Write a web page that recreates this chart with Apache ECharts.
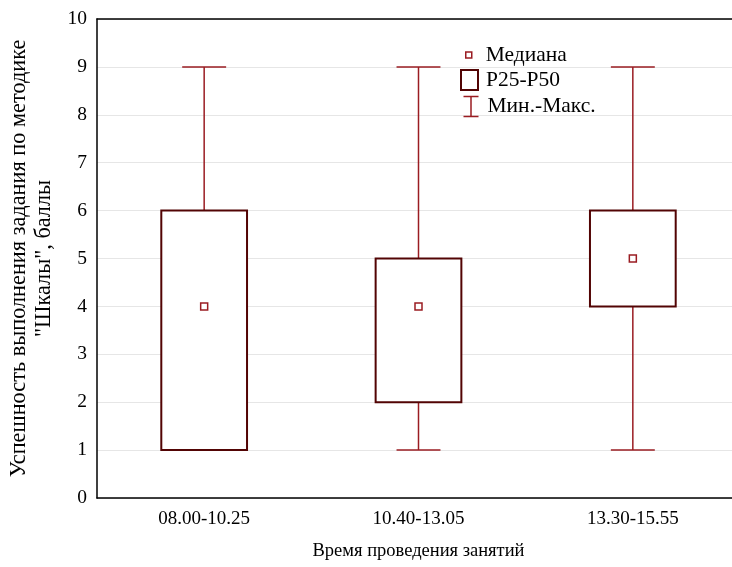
<!DOCTYPE html>
<html>
<head>
<meta charset="utf-8">
<script src="https://cdn.jsdelivr.net/npm/echarts@6/dist/echarts.min.js"></script>
<style>html,body{margin:0;padding:0;background:#fff}#c{width:732px;height:567px}</style>
</head>
<body>
<div id="c"></div>
<script>
const categories = ['08.00-10.25', '10.40-13.05', '13.30-15.55'];
const minValues = [1, 1, 1];
const q1Values = [1, 2, 4];
const medianValues = [4, 4, 5];
const q3Values = [6, 5, 6];
const maxValues = [9, 9, 9];
const yTicks = [0, 1, 2, 3, 4, 5, 6, 7, 8, 9, 10];

const FONT = 'Liberation Serif';
const BOX_C = '#520404';
const WHISK_C = '#9a1c22';

const boxData = categories.map((c, i) => [i, q1Values[i], q3Values[i]]);
const whiskData = categories.map((c, i) => [i, minValues[i], maxValues[i]]);
const medData = categories.map((c, i) => [i, medianValues[i]]);

const chart = echarts.init(document.getElementById('c'), null, {renderer: 'canvas'});
chart.setOption({
  animation: false,
  backgroundColor: '#fff',
  grid: {left: 97, right: -8, top: 19, bottom: 69, outerBoundsMode: 'none', containLabel: false},
  legend: [
    {data: [{name: 'Медиана', icon: 'rect', itemStyle: {color: '#fff', borderColor: WHISK_C, borderWidth: 1.5}}],
     left: 460, top: 39, itemWidth: 6, itemHeight: 6, selectedMode: false,
     textStyle: {fontFamily: FONT, fontSize: 21.5, color: '#000', padding: [0, 0, 0, 9]}},
    {data: [{name: 'P25-P50', icon: 'rect', itemStyle: {color: '#fff', borderColor: BOX_C, borderWidth: 2}}],
     left: 455, top: 64, itemWidth: 17, itemHeight: 20, selectedMode: false,
     textStyle: {fontFamily: FONT, fontSize: 21.5, color: '#000', padding: [0, 0, 0, 3]}},
    {data: [{name: 'Мин.-Макс.', icon: 'path://M0,0H15M7.5,0V20M0,20H15', itemStyle: {color: 'none', borderColor: WHISK_C, borderWidth: 1.5}}],
     left: 456, top: 89, itemWidth: 15, itemHeight: 20, selectedMode: false,
     textStyle: {fontFamily: FONT, fontSize: 21.5, color: '#000', padding: [0, 0, 0, 4]}}
  ],
  xAxis: [{
    type: 'category', data: categories, boundaryGap: true,
    name: 'Время проведения занятий', nameLocation: 'middle', nameGap: 44,
    nameTextStyle: {fontFamily: FONT, fontSize: 18.5, color: '#000'},
    axisLine: {lineStyle: {color: '#000', width: 1.5}},
    axisTick: {alignWithLabel: true, inside: true, length: 4, lineStyle: {color: '#000'}},
    axisLabel: {fontFamily: FONT, fontSize: 19, color: '#000', margin: 12},
    splitLine: {show: false}
  }, {
    type: 'category', data: categories, boundaryGap: true, position: 'top',
    axisLine: {lineStyle: {color: '#000', width: 1.5}},
    axisTick: {alignWithLabel: true, inside: true, length: 4, lineStyle: {color: '#000'}},
    axisLabel: {show: false}, splitLine: {show: false}
  }],
  yAxis: {
    type: 'value', min: yTicks[0], max: yTicks[yTicks.length - 1], interval: 1,
    name: 'Успешность выполнения задания по методике\n"Шкалы", баллы',
    nameLocation: 'middle', nameGap: 40, nameRotate: 90,
    nameTextStyle: {fontFamily: FONT, fontSize: 22.3, color: '#000', lineHeight: 25},
    axisLine: {show: true, lineStyle: {color: '#000', width: 1.5}},
    axisTick: {show: false},
    axisLabel: {fontFamily: FONT, fontSize: 19.5, color: '#000', margin: 10},
    splitLine: {lineStyle: {color: '#e6e6e6', width: 1}}
  },
  series: [
    {
      name: 'Мин.-Макс.', type: 'custom', data: whiskData, encode: {x: 0, y: [1, 2]},
      renderItem: function (params, api) {
        const x = api.coord([api.value(0), 0])[0];
        const yMin = api.coord([api.value(0), api.value(1)])[1];
        const yMax = api.coord([api.value(0), api.value(2)])[1];
        const capW = api.size([1, 0])[0] * 0.205;
        const st = {stroke: WHISK_C, lineWidth: 1.5};
        return {type: 'group', children: [
          {type: 'line', shape: {x1: x, y1: yMin, x2: x, y2: yMax}, style: st},
          {type: 'line', shape: {x1: x - capW / 2, y1: yMin, x2: x + capW / 2, y2: yMin}, style: st},
          {type: 'line', shape: {x1: x - capW / 2, y1: yMax, x2: x + capW / 2, y2: yMax}, style: st}
        ]};
      }
    },
    {
      name: 'P25-P50', type: 'custom', data: boxData, encode: {x: 0, y: [1, 2]},
      renderItem: function (params, api) {
        const x = api.coord([api.value(0), 0])[0];
        const yLo = api.coord([api.value(0), api.value(1)])[1];
        const yHi = api.coord([api.value(0), api.value(2)])[1];
        const w = api.size([1, 0])[0] * 0.4;
        return {type: 'rect', shape: {x: x - w / 2, y: yHi, width: w, height: yLo - yHi},
          style: {fill: '#fff', stroke: BOX_C, lineWidth: 2}};
      }
    },
    {
      name: 'Медиана', type: 'scatter', data: medData, xAxisIndex: 0,
      symbol: 'rect', symbolSize: 7,
      itemStyle: {color: '#fff', borderColor: WHISK_C, borderWidth: 1.5, opacity: 1}
    }
  ]
});
</script>
</body>
</html>
